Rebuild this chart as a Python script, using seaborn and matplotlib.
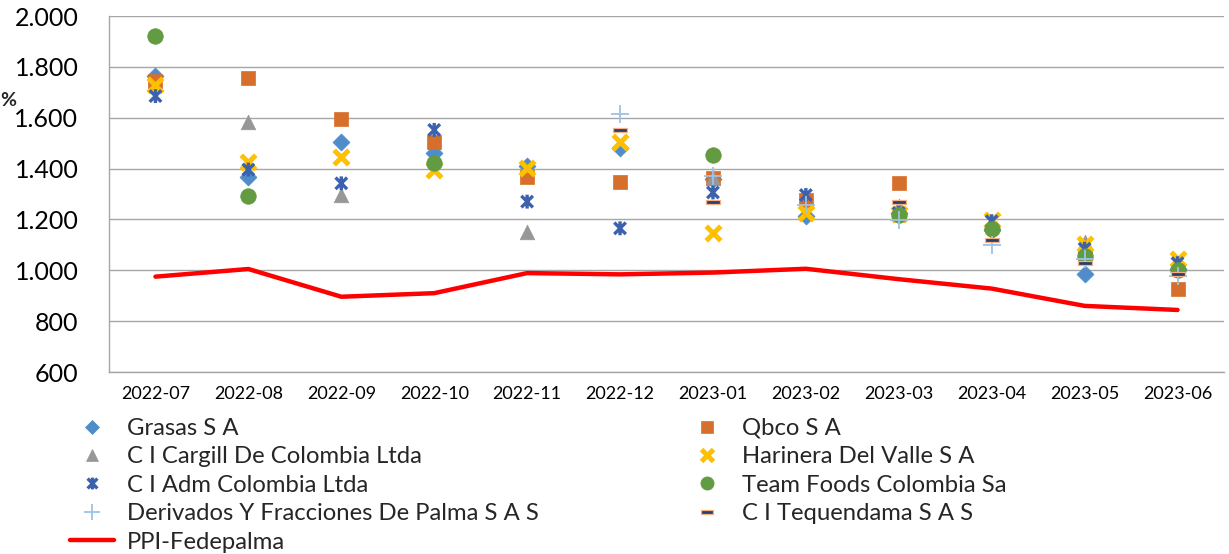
import numpy as np
import pandas as pd
import matplotlib
matplotlib.use("Agg")
import matplotlib.pyplot as plt
from matplotlib.path import Path
from matplotlib.ticker import FuncFormatter
from matplotlib.lines import Line2D
import seaborn as sns

nan = np.nan
months = ["2022-07", "2022-08", "2022-09", "2022-10", "2022-11", "2022-12",
          "2023-01", "2023-02", "2023-03", "2023-04", "2023-05", "2023-06"]

grasas     = [1765, 1365, 1505, 1460, 1410, 1480, 1360, 1212, 1225, 1160, 985, 1005]
qbco       = [1745, 1757, 1595, 1505, 1365, 1348, 1362, 1276, 1342, nan, 1050, 925]
cargill    = [nan, 1582, 1296, nan, 1152, nan, 1362, nan, 1252, nan, 1112, nan]
harinera   = [1730, 1425, 1447, 1394, 1402, 1506, 1148, 1224, 1220, 1197, 1105, 1045]
adm        = [1685, 1396, 1342, 1552, 1270, 1165, 1306, 1296, 1225, 1193, 1085, 1028]
teamfoods  = [1920, 1294, nan, 1420, nan, nan, 1453, nan, 1217, 1161, 1055, 1003]
derivados  = [nan, nan, nan, nan, nan, 1615, 1372, 1258, 1197, 1100, 1045, 978]
tequendama = [nan, nan, nan, nan, nan, 1552, 1270, nan, 1267, 1119, 1030, 985]
ppi        = [975, 1005, 896, 910, 989, 984, 991, 1006, 965, 928, 860, 844]

yticks = [600, 800, 1000, 1200, 1400, 1600, 1800, 2000]

sns.set_theme(style="white")
font_family = ["Lato", "DejaVu Sans"]
plt.rcParams["font.family"] = font_family

fig = plt.figure(figsize=(12.29, 5.54), dpi=100)
ax = fig.add_axes([109 / 1229, 1 - 372 / 554, (1224 - 109) / 1229, (372 - 16) / 554])

# custom markers
asterisk = Path([(-1, -1), (1, 1), (-1, 1), (1, -1), (0, -1.2), (0, 1.2)],
                [Path.MOVETO, Path.LINETO, Path.MOVETO, Path.LINETO, Path.MOVETO, Path.LINETO])
dash = Path([(-1, -0.28), (1, -0.28), (1, 0.28), (-1, 0.28), (-1, -0.28)],
            [Path.MOVETO, Path.LINETO, Path.LINETO, Path.LINETO, Path.CLOSEPOLY])

series = [
    ("Grasas S A", grasas, dict(marker="D", color="#4F8CC9", s=75, edgecolor="#4F8CC9", linewidth=0.5)),
    ("Qbco S A", qbco, dict(marker="s", color="#D66F2C", s=110, edgecolor="#D66F2C", linewidth=0.5)),
    ("C I Cargill De Colombia Ltda", cargill, dict(marker="^", color="#979797", s=110, edgecolor="#979797", linewidth=0.5)),
    ("Harinera Del Valle S A", harinera, dict(marker="x", color="#FFC000", s=110, linewidth=3.6)),
    ("C I Adm Colombia Ltda", adm, dict(marker=asterisk, color="#3C62AE", s=100, edgecolor="#3C62AE",
                                        facecolor="none", linewidth=2.4)),
    ("Team Foods Colombia Sa", teamfoods, dict(marker="o", color="#629B41", s=125, edgecolor="#629B41", linewidth=0.5)),
    ("Derivados Y Fracciones De Palma S A S", derivados, dict(marker="+", color="#9DC3E6", s=170, linewidth=1.3)),
    ("C I Tequendama S A S", tequendama, dict(marker=dash, color="#2E3D6B", s=95, edgecolor="#F4B183", linewidth=0.9)),
]

handles = {}
for name, vals, kw in series:
    df = pd.DataFrame({"Mes": months, "Valor": vals})
    sns.scatterplot(data=df, x="Mes", y="Valor", ax=ax, zorder=3, legend=False, **kw)
    mk = kw["marker"]
    lw = kw.get("linewidth", 1)
    handles[name] = Line2D([], [], linestyle="none", marker=mk, color=kw["color"],
                           markerfacecolor=kw["color"],
                           markeredgecolor=kw.get("edgecolor", kw["color"]),
                           markeredgewidth=lw if mk in (asterisk, "+", "x", dash) else 0.5,
                           markersize=np.sqrt(kw["s"]) * 0.85)

df_ppi = pd.DataFrame({"Mes": months, "Valor": ppi})
sns.lineplot(data=df_ppi, x="Mes", y="Valor", ax=ax, color="#FF0000", linewidth=3.2, zorder=2, legend=False)
handles["PPI-Fedepalma"] = Line2D([], [], color="#FF0000", linewidth=3.2)

ax.set_xlim(-0.5, len(months) - 0.5)
ax.set_ylim(600, 2000)
ax.set_yticks(yticks)
ax.yaxis.set_major_formatter(FuncFormatter(lambda v, p: f"{int(v):,}".replace(",", ".")))
ax.grid(axis="y", color="#A6A6A6", linewidth=1.0)
ax.grid(axis="x", visible=False)
for sp in ["top", "right"]:
    ax.spines[sp].set_visible(False)
ax.spines["left"].set_color("#A6A6A6")
ax.spines["bottom"].set_color("#A6A6A6")
ax.spines["left"].set_linewidth(1.0)
ax.spines["bottom"].set_linewidth(1.0)
ax.tick_params(axis="y", length=0, pad=22, labelsize=18, colors="black")
ax.tick_params(axis="x", length=0, pad=10, labelsize=13, colors="black")
ax.set_xlabel("")
ax.set_ylabel("")
fig.text(0.0, 1 - 101 / 554, "%", fontsize=14, fontweight="bold", va="center", ha="left")

order = ["Grasas S A", "C I Cargill De Colombia Ltda", "C I Adm Colombia Ltda",
         "Derivados Y Fracciones De Palma S A S", "PPI-Fedepalma",
         "Qbco S A", "Harinera Del Valle S A", "Team Foods Colombia Sa", "C I Tequendama S A S"]
leg = fig.legend([handles[n] for n in order], order, ncol=2, loc="upper left",
                 bbox_to_anchor=(70 / 1229, 1 - 418 / 554), frameon=False,
                 fontsize=17.2, handlelength=1.86, handletextpad=0.54, columnspacing=6.1,
                 labelspacing=0.31, borderaxespad=0, borderpad=0)

fig.savefig("out.png", dpi=100)
